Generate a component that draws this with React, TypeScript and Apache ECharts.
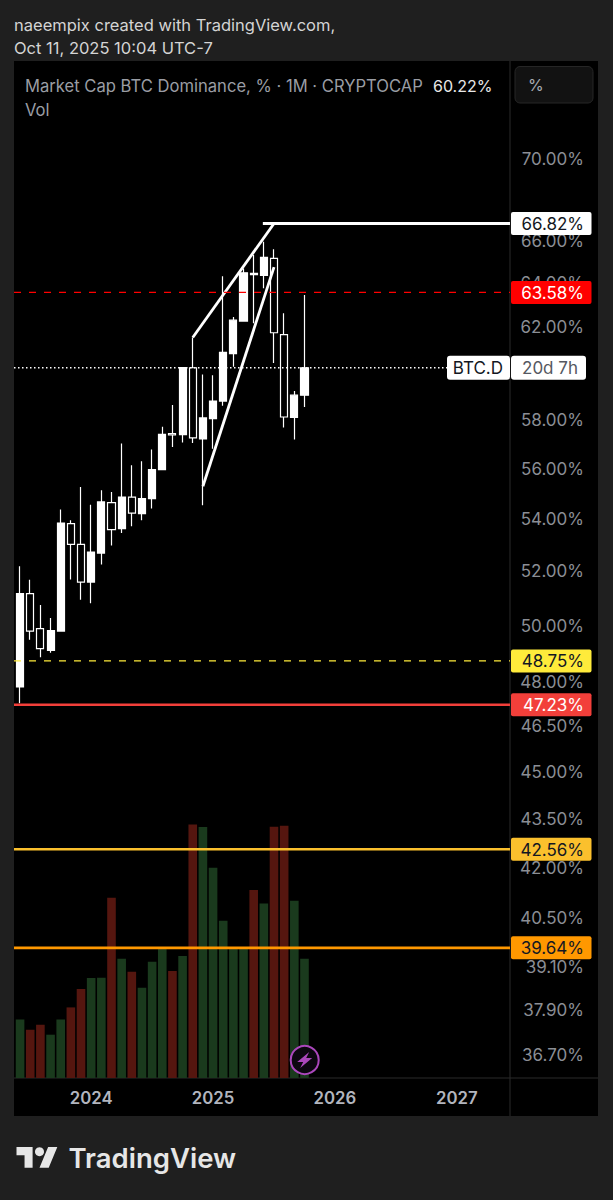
import React, { useEffect, useRef } from "react";
import * as echarts from "echarts";

const months: string[] = [];
for (let y = 2023, m = 6, i = 0; i < 49; i++) {
  months.push(`${y}-${String(m).padStart(2, "0")}`);
  m++;
  if (m > 12) { m = 1; y++; }
}

// [open, close, low, high]
const candles: number[][] = [
  [47.84, 51.17, 47.28, 52.19],
  [51.17, 49.81, 49.5, 51.69],
  [49.9, 49.18, 48.88, 50.75],
  [49.12, 49.83, 49.04, 50.28],
  [49.81, 53.84, 49.81, 54.37],
  [53.82, 53.02, 51.7, 53.95],
  [53.02, 51.6, 50.95, 55.26],
  [51.6, 52.73, 50.82, 54.56],
  [52.69, 54.67, 52.26, 55.13],
  [54.64, 53.59, 52.98, 55.06],
  [53.63, 54.86, 53.46, 57.02],
  [54.86, 54.23, 53.72, 56.13],
  [54.21, 54.8, 53.95, 56.3],
  [54.8, 55.96, 54.41, 56.77],
  [55.96, 57.4, 55.96, 57.71],
  [57.43, 57.37, 56.88, 58.62],
  [57.39, 60.23, 57.06, 60.23],
  [60.22, 57.25, 57.04, 61.55],
  [57.21, 58.08, 54.54, 59.93],
  [58.05, 58.79, 56.81, 59.9],
  [58.79, 60.89, 58.59, 64.33],
  [60.84, 62.32, 60.26, 62.47],
  [62.28, 64.49, 62.25, 64.69],
  [64.46, 64.4, 62.18, 65.32],
  [64.37, 65.21, 63.77, 65.95],
  [65.16, 61.76, 60.43, 65.59],
  [61.68, 58.12, 57.68, 62.63],
  [58.1, 59.04, 57.18, 59.22],
  [59.04, 60.22, 58.54, 63.46],
];
const volumes = [
  58.6, 48.3, 53.3, 43.3, 58.6, 70.6, 89, 100, 100.3, 180.3, 119.3, 106.3, 90.3, 116.3, 130,
  107, 122, 253.6, 251, 210.3, 157.3, 130.3, 130.3, 188, 174.6, 251.3, 252.3, 177.3, 119.3,
];
const volumeSide = [
  1, 0, 0, 1, 1, 0, 0, 1, 1, 0, 1, 0, 1, 1, 1, 0, 1, 0, 1, 1, 1, 1, 1, 0, 1, 0, 0, 1, 1,
];

const yTicks = [70, 66, 64, 62, 58, 56, 54, 52, 50, 48, 46.5, 45, 43.5, 42, 40.5, 39.1, 37.9, 36.7];
const priceLevels = [66.82, 63.58, 48.75, 47.23, 42.56, 39.64];
const lastPrice = 60.22;
const upperTrend = [[17, 61.55], [25, 66.82]];
const lowerTrend = [[18, 55.29], [25, 64.75]];

const LEVEL_STYLE = [
  { line: "#ffffff", width: 0, dash: null, tag: "#ffffff", text: "#131722" },
  { line: "#ff0000", width: 1.2, dash: [7, 8], tag: "#ff0000", text: "#ffffff" },
  { line: "#ffeb3b", width: 1.4, dash: [7, 8], tag: "#ffeb3b", text: "#131722" },
  { line: "#f23f3a", width: 2.6, dash: null, tag: "#f23f3a", text: "#ffffff" },
  { line: "#fbc02d", width: 2.6, dash: null, tag: "#fbc02d", text: "#131722" },
  { line: "#ff9800", width: 2.8, dash: null, tag: "#ff9800", text: "#131722" },
];
const FONT = "Inter, 'Noto Sans', sans-serif";
const BOLT = [[4.5, -8], [-7.5, 2], [-1.5, 2], [-4.5, 8], [7.5, -2], [1.5, -2]];

echarts.graphic.registerShape(
  "tvlogo",
  echarts.graphic.extendPath("M14 22H7V11H0V4h14v18zM28 22h-8l7.5-18h8L28 22z", {})
);

export default function App() {
  const ref = useRef<HTMLDivElement>(null);
  useEffect(() => {
    document.body.style.margin = "0";
    document.body.style.background = "#1f1f1f";
    const chart = echarts.init(ref.current!, undefined, { renderer: "svg" });

    const tagText = (text: string, x: number, y: number, fill: string, size = 17, align = "right") => ({
      type: "text",
      style: { text, x, y, fill, align, verticalAlign: "middle", font: `400 ${size}px ${FONT}` },
    });

    chart.setOption({
      animation: false,
      backgroundColor: "#1f1f1f",
      textStyle: { fontFamily: FONT },
      grid: [
        { left: 15, top: 62, width: 497.7, height: 1016 },
        { left: 15, top: 800, width: 497.7, height: 278 },
      ],
      xAxis: [
        {
          type: "category",
          gridIndex: 0,
          data: months,
          boundaryGap: true,
          axisLine: { show: false },
          axisTick: { show: false },
          splitLine: { show: false },
          axisLabel: {
            interval: (_i: number, v: string) => v.endsWith("-01"),
            formatter: (v: string) => v.slice(0, 4),
            color: "#b2b5be",
            fontSize: 16.8,
            fontWeight: 600,
            fontFamily: FONT,
            margin: 11,
          },
        },
        {
          type: "category",
          gridIndex: 1,
          data: months,
          boundaryGap: true,
          axisLine: { show: false },
          axisTick: { show: false },
          axisLabel: { show: false },
          splitLine: { show: false },
        },
      ],
      yAxis: [
        {
          type: "log",
          gridIndex: 0,
          min: 36.09,
          max: 75.07,
          position: "right",
          axisLine: { show: false },
          axisTick: { show: false },
          splitLine: { show: false },
          axisLabel: { show: false },
        },
        {
          type: "value",
          gridIndex: 1,
          min: 0,
          max: 278,
          show: false,
          splitLine: { show: false },
        },
      ],
      graphic: [
        { type: "rect", z: -10, shape: { x: 14, y: 61, width: 584, height: 1055 }, style: { fill: "#000000" } },
        { type: "line", z: -9, shape: { x1: 510, y1: 61, x2: 510, y2: 1116 }, style: { stroke: "#2a2a2a", lineWidth: 1 } },
        { type: "line", z: -9, shape: { x1: 14, y1: 1078, x2: 598, y2: 1078 }, style: { stroke: "#2a2a2a", lineWidth: 1 } },
        { type: "rect", z: 20, shape: { x: 515, y: 66.5, width: 78, height: 36.5, r: 5 }, style: { fill: "#121212", stroke: "#262626", lineWidth: 1 } },
        { type: "text", z: 21, style: { text: "%", x: 528, y: 85, fill: "#a8abb2", font: `400 16px ${FONT}`, verticalAlign: "middle" } },
        { type: "text", z: 21, style: { text: "naeempix created with TradingView.com,", x: 14, y: 25, fill: "#d4d4d4", font: `400 16.5px ${FONT}`, verticalAlign: "middle" } },
        { type: "text", z: 21, style: { text: "Oct 11, 2025 10:04 UTC-7", x: 14, y: 48, fill: "#d4d4d4", font: `400 16.5px ${FONT}`, verticalAlign: "middle" } },
        { type: "text", z: 21, style: { text: "Market Cap BTC Dominance, % · 1M · CRYPTOCAP", x: 25, y: 86, fill: "#9a9da4", font: `400 16.6px ${FONT}`, verticalAlign: "middle" } },
        { type: "text", z: 21, style: { text: "60.22%", x: 433, y: 86, fill: "#e8e8e8", font: `400 16px ${FONT}`, verticalAlign: "middle" } },
        { type: "text", z: 21, style: { text: "Vol", x: 25, y: 110, fill: "#9a9da4", font: `400 16.6px ${FONT}`, verticalAlign: "middle" } },
        { type: "circle", z: 21, shape: { cx: 304.7, cy: 1060, r: 14 }, style: { fill: "#0c0710", stroke: "#ab47bc", lineWidth: 2 } },
        { type: "polygon", z: 22, x: 304.7, y: 1060, shape: { points: BOLT }, style: { fill: "#ab47bc" } },
        { type: "tvlogo", z: 21, x: 16.5, y: 1142.5, scaleX: 1.15, scaleY: 1.15, style: { fill: "#e6e6e6" } },
        { type: "circle", z: 21, shape: { cx: 39.5, cy: 1151.7, r: 4.5 }, style: { fill: "#e6e6e6" } },
        { type: "text", z: 21, style: { text: "TradingView", x: 68.5, y: 1158, fill: "#e6e6e6", font: `600 27.5px ${FONT}`, verticalAlign: "middle" } },
      ],
      series: [
        {
          type: "candlestick",
          xAxisIndex: 0,
          yAxisIndex: 0,
          z: 3,
          barWidth: 7.6,
          data: candles,
          itemStyle: {
            color: "#ffffff",
            color0: "#000000",
            borderColor: "#ffffff",
            borderColor0: "#ffffff",
            borderWidth: 1.2,
          },
        },
        {
          type: "bar",
          xAxisIndex: 1,
          yAxisIndex: 1,
          z: 2,
          barWidth: 8.6,
          data: volumes.map((v, i) => ({
            value: v,
            itemStyle: { color: volumeSide[i] ? "#1a3a1d" : "#55160f" },
          })),
        },
        {
          type: "line",
          xAxisIndex: 0,
          yAxisIndex: 0,
          z: 6,
          data: upperTrend,
          showSymbol: false,
          lineStyle: { color: "#ffffff", width: 2.8 },
        },
        {
          type: "line",
          xAxisIndex: 0,
          yAxisIndex: 0,
          z: 6,
          data: lowerTrend,
          showSymbol: false,
          lineStyle: { color: "#ffffff", width: 2.8 },
        },
        // price-axis tick labels, placed by the log scale
        {
          type: "custom",
          xAxisIndex: 0,
          yAxisIndex: 0,
          z: 7,
          clip: false,
          data: yTicks.map((t) => [0, t]),
          renderItem: (_p: any, api: any) => {
            const v = api.value(1);
            const y = api.coord([0, v])[1];
            return tagText(`${v.toFixed(2)}%`, 584, y, "#8b8e95");
          },
        },
        // horizontal levels and their tags
        {
          type: "custom",
          xAxisIndex: 0,
          yAxisIndex: 0,
          z: 8,
          clip: false,
          data: priceLevels.map((t) => [0, t]),
          renderItem: (p: any, api: any) => {
            const v = api.value(1);
            const y = api.coord([0, v])[1];
            const s = LEVEL_STYLE[p.dataIndex];
            const children: any[] = [];
            if (s.width > 0) {
              children.push({
                type: "line",
                shape: { x1: 14, y1: y, x2: 510, y2: y },
                style: { stroke: s.line, lineWidth: s.width, lineDash: s.dash || undefined },
              });
            } else {
              const x0 = api.coord([24, v])[0] - 1;
              children.push({
                type: "line",
                shape: { x1: x0, y1: y, x2: 510, y2: y },
                style: { stroke: s.line, lineWidth: 3 },
              });
            }
            children.push({
              type: "rect",
              shape: { x: 511, y: y - 11.5, width: 80.5, height: 23, r: 2 },
              style: { fill: s.tag },
            });
            children.push(tagText(`${v.toFixed(2)}%`, 584, y + 0.5, s.text));
            return { type: "group", children };
          },
        },
        // last price line with symbol and countdown tags
        {
          type: "custom",
          xAxisIndex: 0,
          yAxisIndex: 0,
          z: 8,
          clip: false,
          data: [[0, lastPrice]],
          renderItem: (_p: any, api: any) => {
            const y = api.coord([0, api.value(1)])[1];
            return {
              type: "group",
              children: [
                { type: "line", shape: { x1: 14, y1: y, x2: 447, y2: y }, style: { stroke: "#ffffff", lineWidth: 1.3, lineDash: [1.5, 2.5] } },
                { type: "rect", shape: { x: 447, y: y - 12, width: 63, height: 24, r: 3 }, style: { fill: "#ffffff" } },
                tagText("BTC.D", 503, y + 0.5, "#131722", 17),
                { type: "rect", shape: { x: 511, y: y - 12, width: 75, height: 24, r: 3 }, style: { fill: "#ffffff" } },
                tagText("20d 7h", 578, y + 0.5, "#555861", 17),
              ],
            };
          },
        },
      ],
    });
    return () => chart.dispose();
  }, []);
  return <div ref={ref} style={{ position: "absolute", left: 0, top: 0, width: 613, height: 1200 }} />;
}
